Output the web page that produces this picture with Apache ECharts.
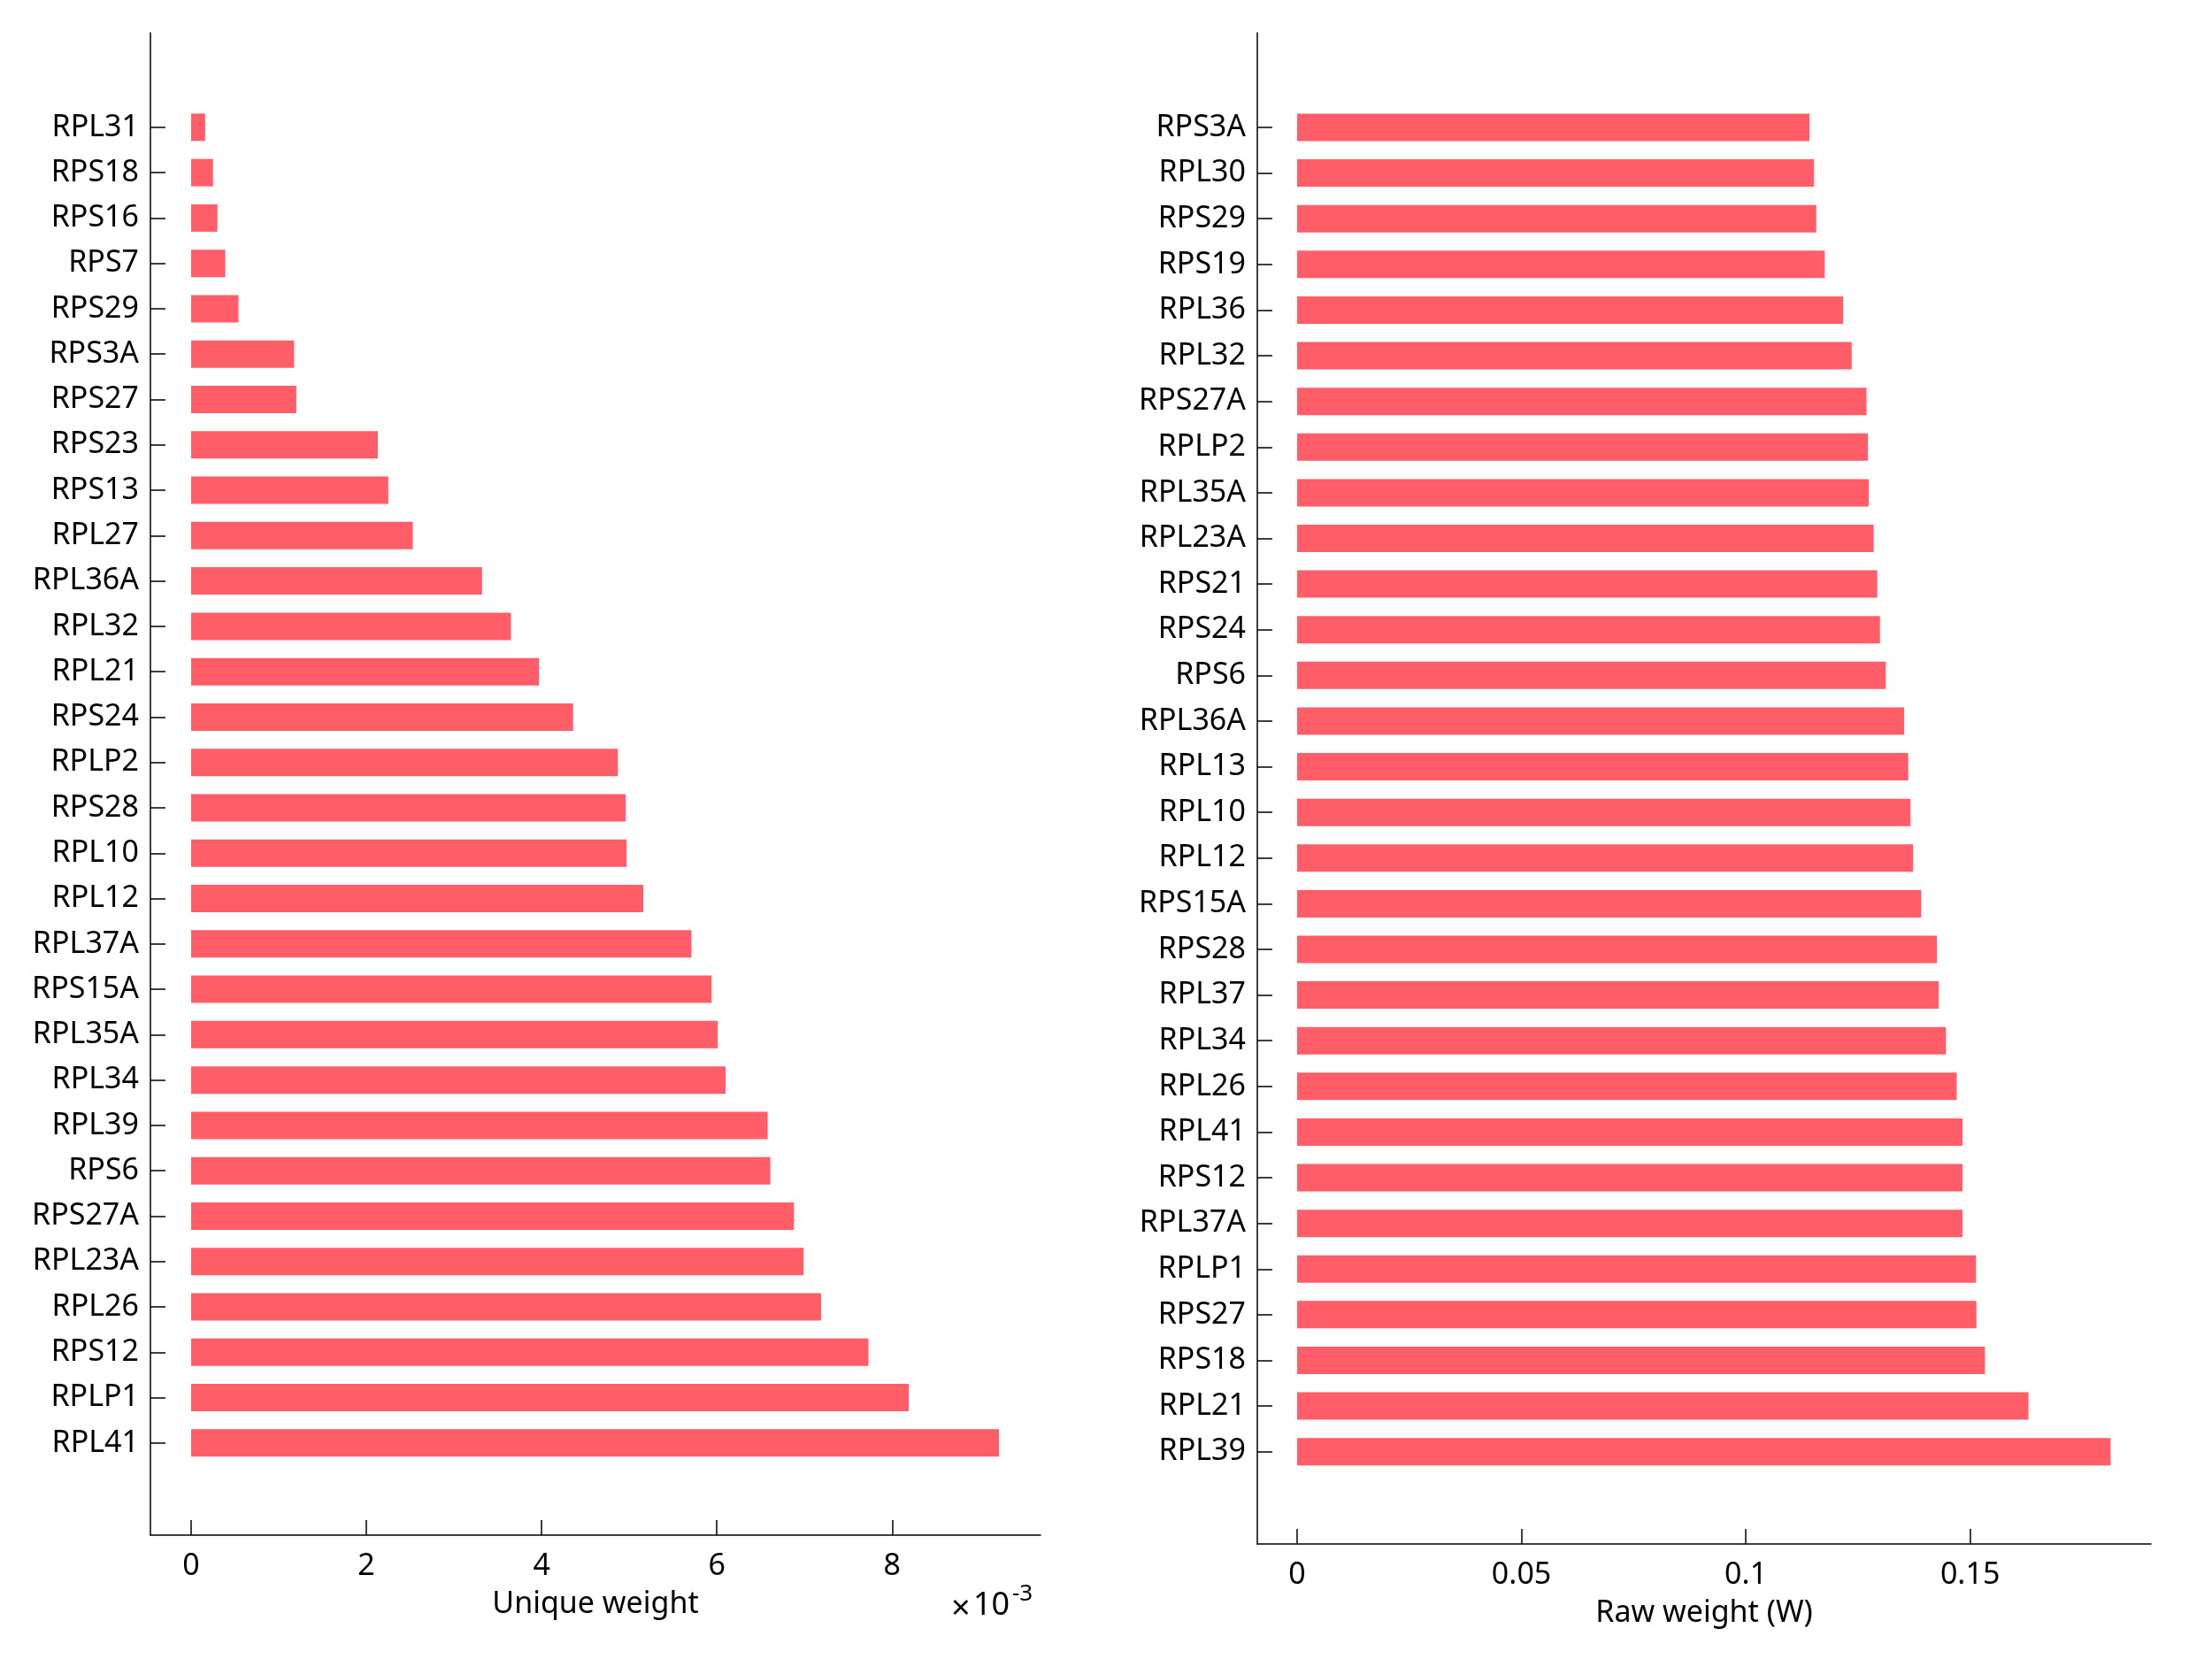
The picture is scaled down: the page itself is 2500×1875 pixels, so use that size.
<!DOCTYPE html>
<html><head><meta charset="utf-8">
<script src="https://cdn.jsdelivr.net/npm/echarts@6/dist/echarts.min.js"></script>
<style>html,body{margin:0;padding:0;background:#fff}#c{width:2500px;height:1875px}</style>
</head><body><div id="c"></div>
<script>
// Left panel: Unique weight (values in units of 10^-3)
const leftCategories = ['RPL31','RPS18','RPS16','RPS7','RPS29','RPS3A','RPS27','RPS23','RPS13','RPL27',
  'RPL36A','RPL32','RPL21','RPS24','RPLP2','RPS28','RPL10','RPL12','RPL37A','RPS15A',
  'RPL35A','RPL34','RPL39','RPS6','RPS27A','RPL23A','RPL26','RPS12','RPLP1','RPL41'];
const leftValues = [0.16,0.25,0.30,0.39,0.54,1.175,1.20,2.13,2.25,2.53,
  3.32,3.65,3.97,4.36,4.87,4.96,4.97,5.16,5.71,5.94,
  6.01,6.10,6.58,6.61,6.88,6.99,7.19,7.73,8.19,9.22];
const leftTicks = [0,2,4,6,8];

// Right panel: Raw weight (W)
const rightCategories = ['RPS3A','RPL30','RPS29','RPS19','RPL36','RPL32','RPS27A','RPLP2','RPL35A','RPL23A',
  'RPS21','RPS24','RPS6','RPL36A','RPL13','RPL10','RPL12','RPS15A','RPS28','RPL37',
  'RPL34','RPL26','RPL41','RPS12','RPL37A','RPLP1','RPS27','RPS18','RPL21','RPL39'];
const rightValues = [0.1142,0.1152,0.1157,0.1176,0.1217,0.1236,0.1269,0.1272,0.1274,0.1285,
  0.1293,0.1299,0.1312,0.1353,0.1362,0.1367,0.1373,0.1391,0.1426,0.1430,
  0.1446,0.1470,0.1483,0.1483,0.1483,0.1513,0.1514,0.1533,0.1630,0.1813];
const rightTicks = [0,0.05,0.1,0.15];

const FONT = 'Noto Sans';
const FS = 34;
const BAR = '#ff5e69';
const line = {color:'#000', width:1.5};

function valueAxis(grid, min, max, offset, ticks, name){
  return {gridIndex:grid, type:'value', min:min, max:max, offset:offset,
    axisLine:{show:true, onZero:false, lineStyle:line},
    axisTick:{show:true, inside:true, length:17, customValues:ticks, lineStyle:line},
    axisLabel:{show:true, customValues:ticks, margin:18, fontSize:FS, fontFamily:FONT, color:'#000',
      formatter: v => String(v)},
    splitLine:{show:false},
    name:name, nameLocation:'middle', nameGap:61,
    nameTextStyle:{fontSize:FS, fontFamily:FONT, color:'#000'}};
}
function catAxis(grid, cats){
  return {gridIndex:grid, type:'category', inverse:true, data:cats,
    axisLine:{show:false, onZero:false},
    axisTick:{show:true, inside:true, length:17, alignWithLabel:true, lineStyle:line},
    axisLabel:{margin:13, fontSize:FS, fontFamily:FONT, color:'#000'},
    splitLine:{show:false}};
}
function frameX(grid){ return {gridIndex:grid, type:'value', show:false}; }
function frameY(grid){
  return {gridIndex:grid, type:'value', min:0, max:1,
    axisLine:{show:true, onZero:false, lineStyle:line},
    axisTick:{show:false}, axisLabel:{show:false}, splitLine:{show:false}};
}

const chart = echarts.init(document.getElementById('c'), null, {renderer:'canvas'});
chart.setOption({
  animation:false,
  backgroundColor:'#fff',
  grid:[
    {left:170, right:1324, top:118.2, bottom:218.5},
    {left:170, right:1324, top:37, bottom:140},
    {left:1421, right:69, top:118.2, bottom:208.5},
    {left:1421, right:69, top:37, bottom:130}
  ],
  xAxis:[
    valueAxis(0, -0.465, 9.694, 78.5, leftTicks, 'Unique weight'),
    frameX(1),
    valueAxis(2, -0.00888, 0.1903, 78.5, rightTicks, 'Raw weight (W)'),
    frameX(3)
  ],
  yAxis:[
    catAxis(0, leftCategories),
    frameY(1),
    catAxis(2, rightCategories),
    frameY(3)
  ],
  series:[
    {type:'bar', xAxisIndex:0, yAxisIndex:0, data:leftValues, barWidth:31, itemStyle:{color:BAR}},
    {type:'bar', xAxisIndex:2, yAxisIndex:2, data:rightValues, barWidth:31, itemStyle:{color:BAR}}
  ],
  graphic:[
    {type:'text', left:1075, top:1800, style:{text:'×', fontSize:38, fontFamily:FONT, fill:'#000'}},
    {type:'text', left:1100, top:1797, style:{text:'10', fontSize:36, fontFamily:FONT, fill:'#000'}},
    {type:'text', left:1144, top:1789, style:{text:'-3', fontSize:26, fontFamily:FONT, fill:'#000'}}
  ]
});
</script>
</body></html>
